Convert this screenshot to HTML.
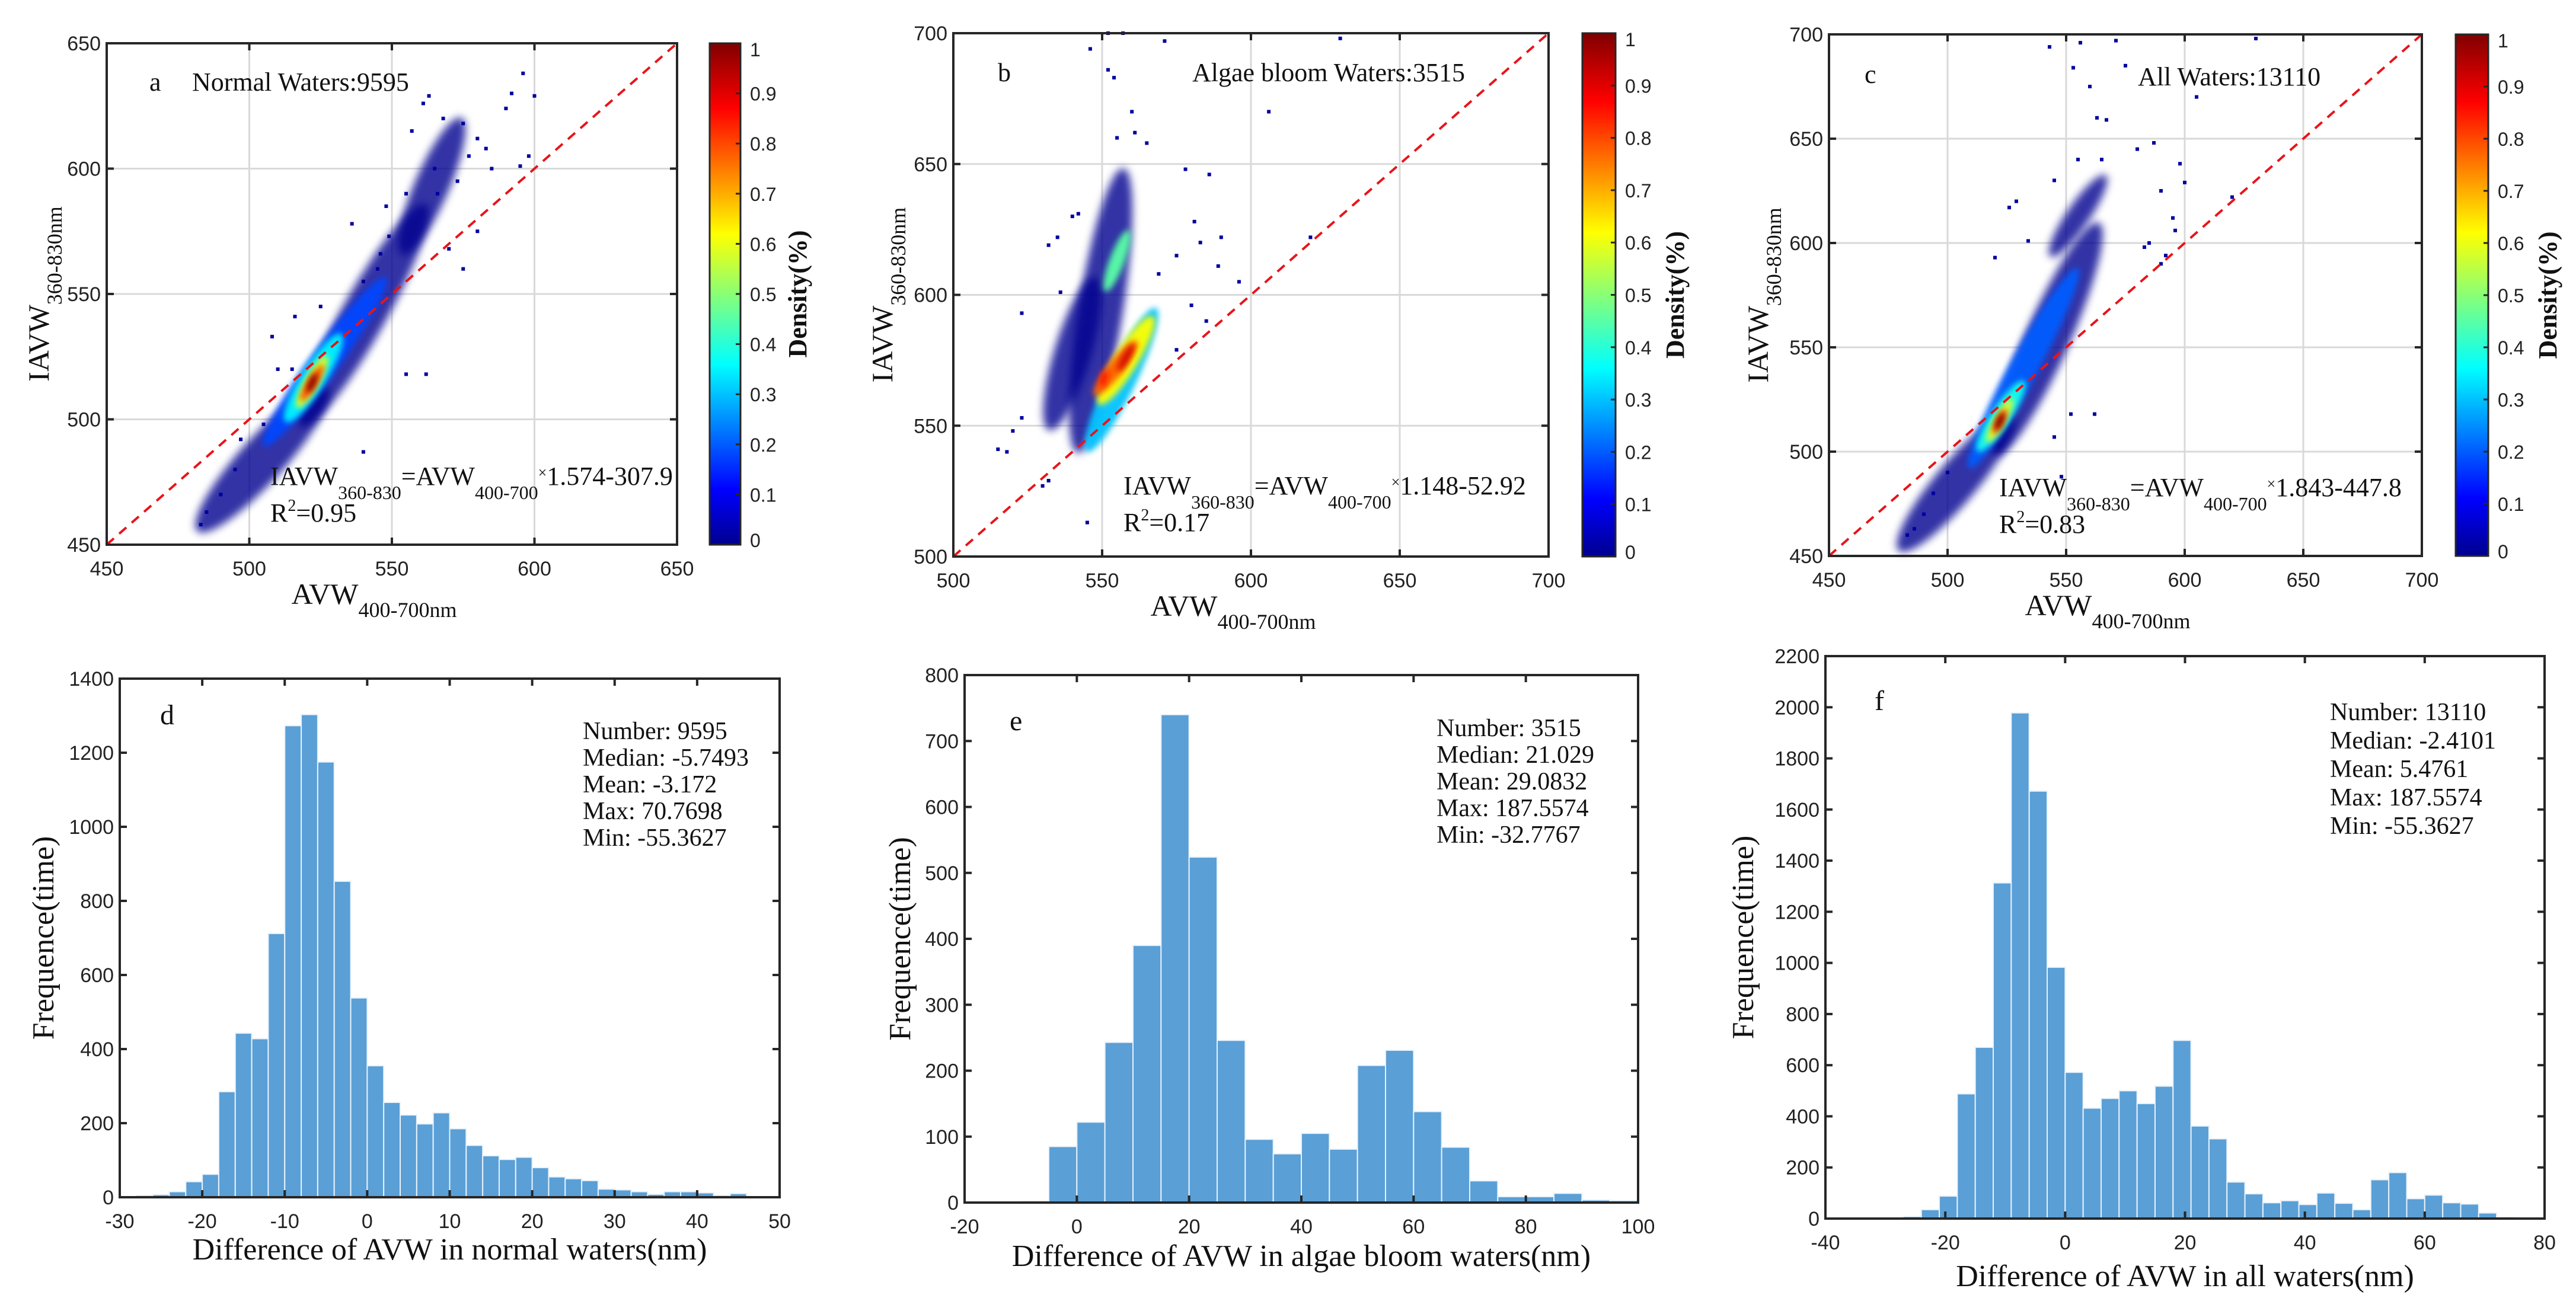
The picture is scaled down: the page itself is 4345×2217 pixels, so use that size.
<!DOCTYPE html>
<html><head><meta charset="utf-8">
<style>
html,body{margin:0;padding:0;background:#fff;}
svg{display:block;}
text{font-family:"Liberation Serif",serif;fill:#111;}
.tk{font-family:"Liberation Sans",sans-serif;font-size:34px;fill:#222;}
</style></head>
<body>
<svg id="fig" width="4345" height="2217" viewBox="0 0 4345 2217" xmlns="http://www.w3.org/2000/svg">
<defs>
<linearGradient id="jet" x1="0" y1="1" x2="0" y2="0">
<stop offset="0" stop-color="#00008f"/><stop offset="0.11" stop-color="#0000ff"/>
<stop offset="0.36" stop-color="#00ffff"/><stop offset="0.62" stop-color="#ffff00"/>
<stop offset="0.87" stop-color="#ff0000"/><stop offset="1" stop-color="#800000"/>
</linearGradient>
<filter id="soft" x="-50%" y="-50%" width="200%" height="200%"><feGaussianBlur stdDeviation="5"/></filter>
<filter id="soft2" x="-50%" y="-50%" width="200%" height="200%"><feGaussianBlur stdDeviation="7"/></filter>
</defs>
</svg>
<script>
// ---------- data ----------
const histDBins = [-28,-26,-24,-22,-20,-18,-16,-14,-12,-10,-8,-6,-4,-2,0,2,4,6,8,10,12,14,16,18,20,22,24,26,28,30,32,34,36,38,40,42,44];
const histDCounts = [5,7,15,42,62,285,443,428,712,1273,1303,1175,853,538,355,256,222,198,228,185,140,112,102,108,80,55,50,45,22,20,15,8,15,15,12,5,10];
const histDWidth = 2;
const histEBins = [-10,-5,0,5,10,15,20,25,30,35,40,45,50,55,60,65,70,75,80,85,90,95];
const histECounts = [2,85,122,243,390,740,524,246,96,74,105,81,208,231,138,84,33,9,9,14,4,3];
const histEWidth = 5;
const histFBins = [-27,-24,-21,-18,-15,-12,-9,-6,-3,0,3,6,9,12,15,18,21,24,27,30,33,36,39,42,45,48,51,54,57,60,63,66,69,72];
const histFCounts = [8,35,88,488,670,1313,1978,1672,983,572,432,470,500,450,518,697,362,312,143,97,62,70,55,100,60,35,152,180,78,92,62,57,22,5];
const histFWidth = 3;
const statsD = ["Number: 9595","Median: -5.7493","Mean: -3.172","Max: 70.7698","Min: -55.3627"];
const statsE = ["Number: 3515","Median: 21.029","Mean: 29.0832","Max: 187.5574","Min: -32.7767"];
const statsF = ["Number: 13110","Median: -2.4101","Mean: 5.4761","Max: 187.5574","Min: -55.3627"];
const colorbarTicks = [0,0.1,0.2,0.3,0.4,0.5,0.6,0.7,0.8,0.9,1];
// density blobs: [x1,y1,x2,y2,density] in data units
const blobsA = [[487,462,522,506,0],[522,505,558,578,0],[556,572,572,614,0],[508,494,545,552,0.18],[515,503,530,530,0.35],[518,507,526,523,0.6],[519,509,525,520,0.8],[521,512,523,517,1]];
const blobsB = [[543,548,556,640,0],[534,555,546,600,0],[547,545,566,590,0.3],[552,604,558,622,0.45],[551,562,565,588,0.62],[549,564,560,580,0.78],[556,572,560,580,0.92],[550,566,551,570,0.85]];
const blobsC = [[485,460,522,510,0],[524,508,560,600,0],[546,598,564,628,0],[512,498,552,582,0.2],[515,504,530,530,0.38],[518,507,526,523,0.6],[520,510,524,519,0.82],[521,512,523,517,1]];
const pointsA = [[483,458],[485,463],[490,470],[495,480],[497,492],[505,498],[540,487],[555,518],[562,518],[536,578],[546,566],[549,573],[557,615],[561,626],[563,629],[568,620],[575,618],[580,612],[585,600],[590,624],[592,630],[596,638],[600,629],[595,601],[598,605],[510,520],[508,533],[516,541],[525,545],[515,520],[540,555],[545,560],[548,585],[555,590],[565,600],[570,568],[575,560],[580,575],[577,605],[583,608],[573,595],[566,590]];
const pointsB = [[515,541],[518,540],[520,548],[523,553],[530,527],[532,529],[545,513],[536,601],[532,619],[535,622],[542,631],[546,694],[552,686],[554,683],[560,670],[555,660],[561,662],[565,658],[578,648],[586,646],[581,628],[583,620],[590,622],[575,615],[589,611],[596,605],[580,596],[585,590],[606,670],[620,622],[630,698],[571,697],[557,700],[569,608],[575,579],[523,593],[540,630],[552,700]];
const pointsC = [[483,460],[486,463],[490,470],[494,480],[500,490],[520,593],[534,601],[526,617],[529,620],[543,694],[553,684],[556,696],[560,675],[563,660],[567,659],[575,685],[580,645],[587,648],[598,638],[600,629],[605,670],[590,625],[595,612],[585,600],[596,606],[620,622],[630,698],[571,697],[545,630],[555,640],[565,640],[583,598],[590,590],[592,594],[552,518],[562,518],[545,507],[548,488]];

// ---------- helpers ----------
const svg = document.getElementById('fig');
const NS = 'http://www.w3.org/2000/svg';
function mk(tag, attrs, parent){const e=document.createElementNS(NS,tag);for(const k in attrs)e.setAttribute(k,attrs[k]);(parent||svg).appendChild(e);return e;}
function jet(v){
  const stops=[[0,[0,0,143]],[0.11,[0,0,255]],[0.36,[0,255,255]],[0.62,[255,255,0]],[0.87,[255,0,0]],[1,[128,0,0]]];
  for(let i=1;i<stops.length;i++){if(v<=stops[i][0]){const a=stops[i-1],b=stops[i];const t=(v-a[0])/(b[0]-a[0]);const c=a[1].map((x,j)=>Math.round(x+(b[1][j]-x)*t));return `rgb(${c[0]},${c[1]},${c[2]})`;}}
  return 'rgb(128,0,0)';
}

// ---------- scatter panels ----------
function scatterPanel(p){
  const g=mk('g',{});
  
  
  const sx=v=>p.L+(v-p.x0)/(p.x1-p.x0)*(p.R-p.L);
  const sy=v=>p.B-(v-p.y0)/(p.y1-p.y0)*(p.B-p.T);
  for(let v=p.x0;v<=p.x1;v+=p.step){const l=mk('line',{x1:sx(v),x2:sx(v),y1:p.T,y2:p.B,stroke:'#d9d9d9','stroke-width':3},g);}
  for(let v=p.y0;v<=p.y1;v+=p.step){const l=mk('line',{x1:p.L,x2:p.R,y1:sy(v),y2:sy(v),stroke:'#d9d9d9','stroke-width':3},g);}
  const dg=mk('g',{},g);
  
  
  p.blobs.forEach((b,i)=>{
    const x1=sx(b[0]),y1=sy(b[1]),x2=sx(b[2]),y2=sy(b[3]);
    const len=Math.hypot(x2-x1,y2-y1);const ang=Math.atan2(y2-y1,x2-x1)*180/Math.PI;
    const w=b[4]==0?Math.max(20,Math.min(75,len*0.3)):Math.max(12,Math.min(48,len*0.3));
    const e=mk('ellipse',{cx:(x1+x2)/2,cy:(y1+y2)/2,rx:len/2+w/2,ry:w/2,transform:`rotate(${ang} ${(x1+x2)/2} ${(y1+y2)/2})`,fill:jet(b[4]),'fill-opacity':b[4]==0?0.8:0.95,filter:b[4]==0?'url(#soft2)':'url(#soft)'},dg);
    
    
  });
  p.points.forEach(pt=>{
    const c=mk('rect',{x:sx(pt[0])-3,y:sy(pt[1])-3,width:6,height:6,fill:'#0000a0'},dg);
    
    
  });
  const m0=Math.max(p.x0,p.y0),m1=Math.min(p.x1,p.y1);
  const ll=mk('line',{x1:sx(m0),y1:sy(m0),x2:sx(m1),y2:sy(m1),stroke:'#e8141a','stroke-width':4,'stroke-dasharray':'16 12'},g);
  
  
  const bx=mk('rect',{x:p.L,y:p.T,width:p.R-p.L,height:p.B-p.T,fill:'none',stroke:'#262626','stroke-width':4},g);
  
  
  for(let v=p.x0;v<=p.x1;v+=p.step){
    mk('line',{x1:sx(v),x2:sx(v),y1:p.B,y2:p.B-12,stroke:'#262626','stroke-width':4},g);
    mk('line',{x1:sx(v),x2:sx(v),y1:p.T,y2:p.T+12,stroke:'#262626','stroke-width':4},g);
    const t=mk('text',{x:sx(v),y:p.B+52,'text-anchor':'middle',class:'tk'},g);t.textContent=v;
    
  }
  for(let v=p.y0;v<=p.y1;v+=p.step){
    mk('line',{x1:p.L,x2:p.L+12,y1:sy(v),y2:sy(v),stroke:'#262626','stroke-width':4},g);
    mk('line',{x1:p.R,x2:p.R-12,y1:sy(v),y2:sy(v),stroke:'#262626','stroke-width':4},g);
    const t=mk('text',{x:p.L-10,y:sy(v)+12,'text-anchor':'end',class:'tk'},g);t.textContent=v;
    
  }
  const cb=mk('rect',{x:p.cb0,y:p.T,width:p.cb1-p.cb0,height:p.B-p.T,fill:'url(#jet)',stroke:'#262626','stroke-width':3},g);
  
  colorbarTicks.forEach(v=>{
    const y=p.B-v*(p.B-p.T);
    mk('line',{x1:p.cb1-8,x2:p.cb1,y1:y,y2:y,stroke:'#262626','stroke-width':3},g);
    const t=mk('text',{x:p.cb1+16,y:y+(v==1?22:v==0?4:12),class:'tk',style:'font-size:32px'},g);t.textContent=v;
    
  });
  const dl=mk('text',{x:p.dens,y:(p.T+p.B)/2,'text-anchor':'middle',transform:`rotate(-90 ${p.dens} ${(p.T+p.B)/2})`,style:'font-size:44px;font-weight:bold;font-family:Liberation Serif,serif'},g);
  dl.textContent='Density(%)';
  const pl=mk('text',{x:p.lab[0],y:p.lab[1],style:'font-size:44px'},g);pl.textContent=p.letter;
  
  const tl=mk('text',{x:p.title[0],y:p.title[1],style:'font-size:44px'},g);tl.textContent=p.titleText;
  
  const eq=mk('text',{x:p.eq[0],y:p.eq[1],style:'font-size:44px'},g);
  eq.innerHTML=`IAVW<tspan dy="24" style="font-size:32px">360-830</tspan><tspan dy="-24">=AVW</tspan><tspan dy="24" style="font-size:32px">400-700</tspan><tspan dy="-36" style="font-size:26px">×</tspan><tspan dy="12">${p.eqText}</tspan>`;
  
  const r2=mk('text',{x:p.eq[0],y:p.eq[1]+62,style:'font-size:44px'},g);
  r2.innerHTML=`R<tspan dy="-18" style="font-size:28px">2</tspan><tspan dy="18">=${p.r2}</tspan>`;
  
  const xl=mk('text',{x:(p.L+p.R)/2-30,y:p.B+100,'text-anchor':'middle',style:'font-size:50px'},g);
  xl.innerHTML='AVW<tspan dy="22" style="font-size:36px">400-700nm</tspan>';
  
  const yc=(p.T+p.B)/2;
  const yl=mk('text',{x:p.ylx,y:yc,'text-anchor':'middle',transform:`rotate(-90 ${p.ylx} ${yc})`,style:'font-size:50px'},g);
  yl.innerHTML='IAVW<tspan dy="22" style="font-size:36px">360-830nm</tspan>';
  
}
scatterPanel({name:'panel-a-normal-waters',L:180,R:1142,T:73,B:919,x0:450,x1:650,y0:450,y1:650,step:50,cb0:1197,cb1:1249,dens:1360,blobs:blobsA,points:pointsA,letter:'a',lab:[252,153],title:[324,153],titleText:'Normal Waters:9595',eq:[456,818],eqText:'1.574-307.9',r2:'0.95',ylx:82});
scatterPanel({name:'panel-b-algae-bloom-waters',L:1608,R:2612,T:56,B:939,x0:500,x1:700,y0:500,y1:700,step:50,cb0:2669,cb1:2725,dens:2840,blobs:blobsB,points:pointsB,letter:'b',lab:[1683,137],title:[2011,137],titleText:'Algae bloom Waters:3515',eq:[1895,834],eqText:'1.148-52.92',r2:'0.17',ylx:1505});
scatterPanel({name:'panel-c-all-waters',L:3085,R:4085,T:58,B:938,x0:450,x1:700,y0:450,y1:700,step:50,cb0:4142,cb1:4197,dens:4312,blobs:blobsC,points:pointsC,letter:'c',lab:[3145,140],title:[3606,144],titleText:'All Waters:13110',eq:[3372,837],eqText:'1.843-447.8',r2:'0.83',ylx:2982});

// ---------- histograms ----------
function histPanel(p){
  const g=mk('g',{});
  
  
  const sx=v=>p.L+(v-p.x0)/(p.x1-p.x0)*(p.R-p.L);
  const sy=v=>p.B-(v-0)/(p.y1)*(p.B-p.T);
  p.bins.forEach((b,i)=>{
    const r=mk('rect',{x:sx(b),y:sy(p.counts[i]),width:sx(b+p.w)-sx(b),height:p.B-sy(p.counts[i]),fill:'#5a9fd6',stroke:'#e8f2fb','stroke-width':2},g);
    
    
  });
  const bx=mk('rect',{x:p.L,y:p.T,width:p.R-p.L,height:p.B-p.T,fill:'none',stroke:'#262626','stroke-width':4},g);
  
  for(let v=p.x0;v<=p.x1+1e-9;v+=p.xs){
    mk('line',{x1:sx(v),x2:sx(v),y1:p.B,y2:p.B-12,stroke:'#262626','stroke-width':4},g);
    mk('line',{x1:sx(v),x2:sx(v),y1:p.T,y2:p.T+12,stroke:'#262626','stroke-width':4},g);
    const t=mk('text',{x:sx(v),y:p.B+52,'text-anchor':'middle',class:'tk'},g);t.textContent=v;
    
  }
  for(let v=0;v<=p.y1;v+=p.ys){
    mk('line',{x1:p.L,x2:p.L+12,y1:sy(v),y2:sy(v),stroke:'#262626','stroke-width':4},g);
    mk('line',{x1:p.R,x2:p.R-12,y1:sy(v),y2:sy(v),stroke:'#262626','stroke-width':4},g);
    const t=mk('text',{x:p.L-10,y:sy(v)+12,'text-anchor':'end',class:'tk'},g);t.textContent=v;
    
  }
  const pl=mk('text',{x:p.lab[0],y:p.lab[1],style:'font-size:48px'},g);pl.textContent=p.letter;
  
  p.stats.forEach((s,i)=>{
    const t=mk('text',{x:p.st[0],y:p.st[1]+i*p.st[2],style:'font-size:42px'},g);t.textContent=s;
    
  });
  const xl=mk('text',{x:(p.L+p.R)/2,y:p.xlY,'text-anchor':'middle',style:'font-size:52px'},g);xl.textContent=p.xlabel;
  
  const yc=(p.T+p.B)/2;
  const yl=mk('text',{x:p.ylx,y:yc,'text-anchor':'middle',transform:`rotate(-90 ${p.ylx} ${yc})`,style:'font-size:52px'},g);yl.textContent='Frequence(time)';
  
}
histPanel({name:'panel-d-normal-hist',L:202,R:1315,T:1145,B:2020,x0:-30,x1:50,xs:10,y1:1400,ys:200,bins:histDBins,counts:histDCounts,w:histDWidth,letter:'d',lab:[270,1222],stats:statsD,st:[983,1247,45],xlabel:'Difference of AVW in normal waters(nm)',xlY:2125,ylx:90});
histPanel({name:'panel-e-algae-hist',L:1627,R:2763,T:1139,B:2029,x0:-20,x1:100,xs:20,y1:800,ys:100,bins:histEBins,counts:histECounts,w:histEWidth,letter:'e',lab:[1703,1232],stats:statsE,st:[2423,1242,45],xlabel:'Difference of AVW in algae bloom waters(nm)',xlY:2136,ylx:1535});
histPanel({name:'panel-f-all-hist',L:3079,R:4292,T:1107,B:2056,x0:-40,x1:80,xs:20,y1:2200,ys:200,bins:histFBins,counts:histFCounts,w:histFWidth,letter:'f',lab:[3162,1198],stats:statsF,st:[3930,1215,48],xlabel:'Difference of AVW in all waters(nm)',xlY:2170,ylx:2957});
</script>
</body></html>
